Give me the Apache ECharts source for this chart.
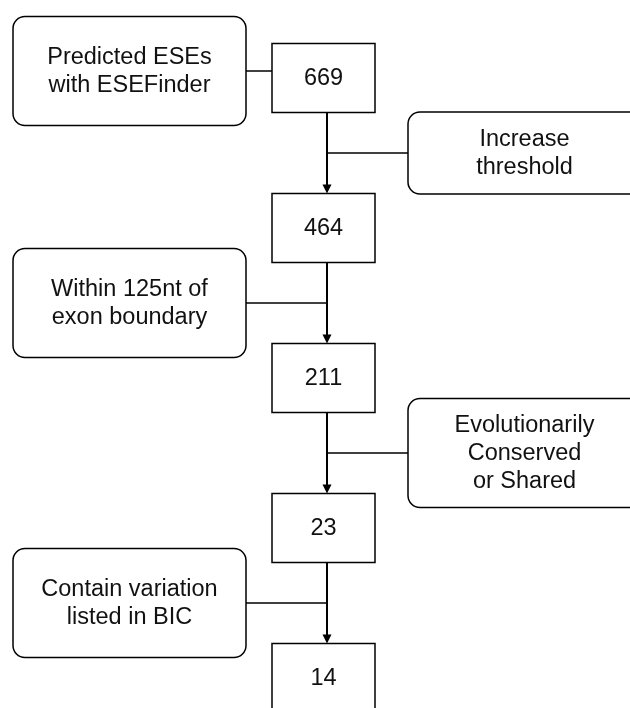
<!DOCTYPE html>
<html>
<head>
<meta charset="utf-8">
<script src="https://cdn.jsdelivr.net/npm/echarts@6/dist/echarts.min.js"></script>
<style>
  html, body { margin: 0; padding: 0; background: #fff; }
  #main { width: 630px; height: 708px; }
</style>
</head>
<body>
<div id="main"></div>
<script>
// counts remaining after each filtering step
const counts = [669, 464, 211, 23, 14];
// filter that leads into each count box
const filterLabels = [
  'Predicted ESEs\nwith ESEFinder',
  'Increase\nthreshold',
  'Within 125nt of\nexon boundary',
  'Evolutionarily\nConserved\nor Shared',
  'Contain variation\nlisted in BIC'
];
const filterSides = ['left', 'right', 'left', 'right', 'left'];

// layout (pixel units of the hidden 630x708 axes)
const spineX = 327;
const countLeft = 272, countRight = 375, countH = 69;
const stepTop = 78, stepGap = 150;
const leftBox = [13, 246], rightBox = [408, 641];
const filterH = [109, 82, 109, 109, 109];
const font = { fontFamily: 'Liberation Sans, Arial, sans-serif', fontSize: 23.5, lineHeight: 28, fill: '#111' };

const stepY = i => stepTop + i * stepGap;
const filterY = i => (i === 0 ? 71 : stepTop + (i - 0.5) * stepGap);

function rectFrom(api, x0, y0, x1, y1) {
  const a = api.coord([x0, y0]);
  const b = api.coord([x1, y1]);
  return { x: a[0], y: a[1], width: b[0] - a[0], height: b[1] - a[1] };
}

function renderLinks(params, api) {
  const i = api.value(0);
  const children = [];
  const fy = filterY(i);
  const side = filterSides[i];
  const edge = side === 'left' ? leftBox[1] : rightBox[0];
  const lineStyle = { stroke: '#000', lineWidth: 1.5 };
  if (i === 0) {
    const a = api.coord([edge, fy]), b = api.coord([countLeft, fy]);
    children.push({ type: 'line', shape: { x1: a[0], y1: a[1], x2: b[0], y2: b[1] }, style: lineStyle });
  } else {
    const top = api.coord([spineX, stepY(i - 1) + countH / 2]);
    const bot = api.coord([spineX, stepY(i) - countH / 2]);
    children.push({ type: 'line', shape: { x1: top[0], y1: top[1], x2: bot[0], y2: bot[1] - 7 }, style: { stroke: '#000', lineWidth: 2 } });
    children.push({ type: 'polygon', shape: { points: [[bot[0] - 4.5, bot[1] - 9], [bot[0] + 4.5, bot[1] - 9], [bot[0], bot[1]]] }, style: { fill: '#000' } });
    const a = api.coord([edge, fy]), b = api.coord([spineX, fy]);
    children.push({ type: 'line', shape: { x1: a[0], y1: a[1], x2: b[0], y2: b[1] }, style: lineStyle });
  }
  return { type: 'group', children: children };
}

function renderFilter(params, api) {
  const i = api.value(0);
  const fy = filterY(i);
  const xs = filterSides[i] === 'left' ? leftBox : rightBox;
  const r = rectFrom(api, xs[0], fy - filterH[i] / 2, xs[1], fy + filterH[i] / 2);
  const c = api.coord([(xs[0] + xs[1]) / 2, fy]);
  return {
    type: 'group',
    children: [
      { type: 'rect', shape: Object.assign({ r: 12 }, r), style: { fill: '#fff', stroke: '#000', lineWidth: 1.5 } },
      { type: 'text', x: c[0], y: c[1] + 1, style: Object.assign({ text: filterLabels[i], align: 'center', verticalAlign: 'middle' }, font) }
    ]
  };
}

function renderCount(params, api) {
  const i = api.value(0);
  const cy = stepY(i);
  const r = rectFrom(api, countLeft, cy - countH / 2, countRight, cy + countH / 2);
  const c = api.coord([(countLeft + countRight) / 2, cy]);
  return {
    type: 'group',
    children: [
      { type: 'rect', shape: r, style: { fill: '#fff', stroke: '#000', lineWidth: 1.5 } },
      { type: 'text', x: c[0], y: c[1] + 1, style: Object.assign({ text: String(counts[i]), align: 'center', verticalAlign: 'middle' }, font) }
    ]
  };
}

const chart = echarts.init(document.getElementById('main'));
chart.setOption({
  animation: false,
  backgroundColor: '#fff',
  grid: { left: 0, right: 0, top: 0, bottom: 0 },
  xAxis: { type: 'value', min: 0, max: 630, show: false },
  yAxis: { type: 'value', min: 0, max: 708, inverse: true, show: false },
  series: [
    { type: 'custom', z: 1, clip: true, renderItem: renderLinks, data: counts.map((c, i) => [i, c]) },
    { type: 'custom', z: 2, clip: true, renderItem: renderFilter, data: filterLabels.map((t, i) => [i, 0]) },
    { type: 'custom', z: 3, clip: true, renderItem: renderCount, data: counts.map((c, i) => [i, c]) }
  ]
});
</script>
</body>
</html>
